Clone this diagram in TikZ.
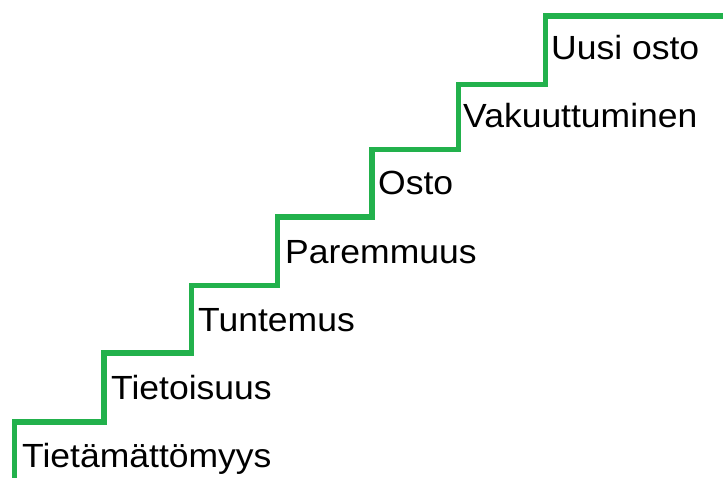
\documentclass[tikz,border=0pt]{standalone}
\usepackage{fontspec}
\setmainfont[FakeStretch=1.06]{Liberation Sans}
\definecolor{stairgreen}{RGB}{34,177,76}
\tikzset{
  stair/.style={draw=stairgreen, line width=5.5pt, line join=miter},
  steplabel/.style={anchor=base west, inner sep=0pt, font=\fontsize{33.5}{36}\selectfont, text=black}
}
\begin{document}
\begin{tikzpicture}[x=1pt,y=-1pt]
\useasboundingbox (0,0) rectangle (723,478);
\coordinate (s0) at (14.5,480);
\coordinate (s1) at (14.5,422);
\coordinate (s2) at (104,422);
\coordinate (s3) at (104,353);
\coordinate (s4) at (191.5,353);
\coordinate (s5) at (191.5,285.5);
\coordinate (s6) at (277.5,285.5);
\coordinate (s7) at (277.5,217);
\coordinate (s8) at (372,217);
\coordinate (s9) at (372,149.5);
\coordinate (s10) at (458.5,149.5);
\coordinate (s11) at (458.5,84.5);
\coordinate (s12) at (545.5,84.5);
\coordinate (s13) at (545.5,16);
\coordinate (s14) at (725,16);
\draw[stair] (s0) -- (s1) -- (s2) -- (s3) -- (s4) -- (s5) -- (s6) -- (s7) -- (s8) -- (s9) -- (s10) -- (s11) -- (s12) -- (s13) -- (s14);
\node[steplabel] (l1) at (22,467) {Tietämättömyys};
\node[steplabel] (l2) at (111,399) {Tietoisuus};
\node[steplabel] (l3) at (198,332) {Tuntemus};
\node[steplabel] (l4) at (285,264) {Paremmuus};
\node[steplabel] (l5) at (378,195) {Osto};
\node[steplabel] (l6) at (463,128) {Vakuuttuminen};
\node[steplabel] (l7) at (551,60) {Uusi osto};
\end{tikzpicture}
\end{document}
